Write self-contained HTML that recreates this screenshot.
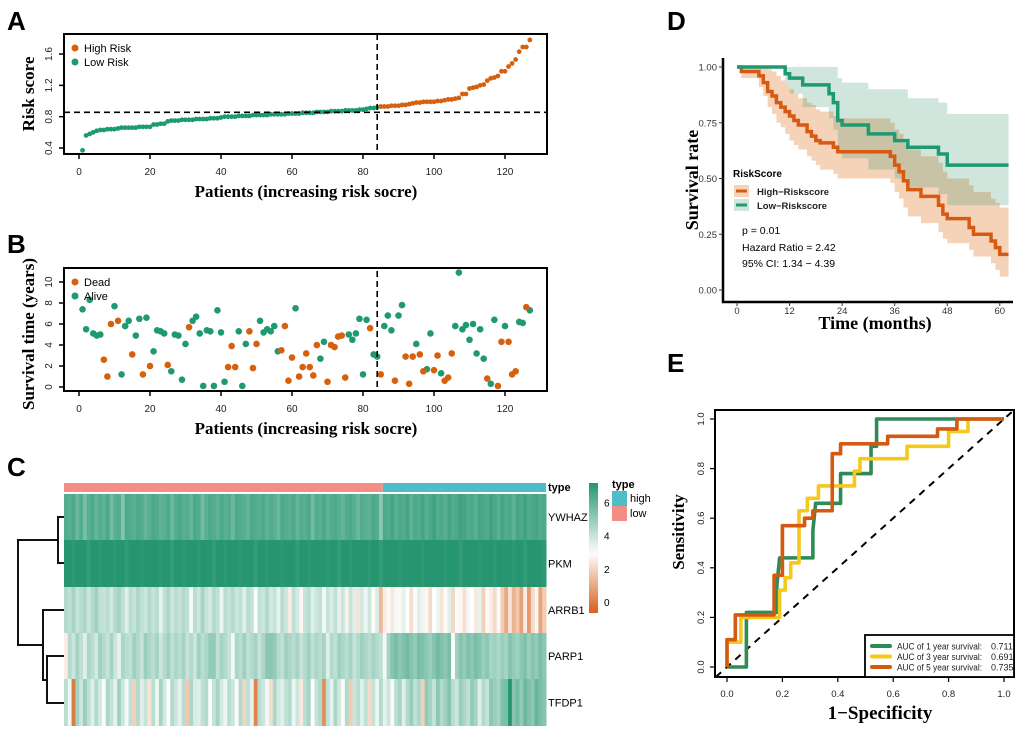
<!DOCTYPE html>
<html><head><meta charset="utf-8"><style>
body{margin:0;background:#fff}
svg text{font-family:"Liberation Sans",sans-serif}
.ser{font-family:"Liberation Serif",serif!important;font-weight:bold}
.pl{font-size:26px;font-weight:bold}
.tk{font-size:10px;fill:#222}
</style></head><body>
<svg id="fig" width="1020" height="730" viewBox="0 0 1020 730" xmlns="http://www.w3.org/2000/svg">
<text class="pl" x="7" y="30">A</text>
<text class="pl" x="7" y="253">B</text>
<text class="pl" x="7" y="476">C</text>
<text class="pl" x="667" y="30">D</text>
<text class="pl" x="667" y="372">E</text>
<g id="gA"></g>
<g id="gB"></g>
<g id="gC"></g>
<g id="gD"></g>
<g id="gE"></g>
</svg>
<script>
// ---- Panel A data ----
const riskScores=[0.37,0.56,0.58,0.60,0.62,0.63,0.63,0.64,0.64,0.64,0.65,0.66,0.66,0.66,0.66,0.66,0.67,0.67,0.67,0.67,0.70,0.70,0.71,0.71,0.74,0.75,0.75,0.75,0.76,0.76,0.76,0.76,0.77,0.77,0.77,0.77,0.78,0.78,0.78,0.79,0.80,0.80,0.80,0.80,0.81,0.81,0.81,0.81,0.82,0.82,0.82,0.82,0.82,0.83,0.83,0.83,0.83,0.83,0.84,0.84,0.84,0.84,0.85,0.85,0.85,0.85,0.86,0.86,0.86,0.86,0.87,0.87,0.87,0.87,0.88,0.88,0.88,0.88,0.89,0.89,0.90,0.91,0.91,0.92,0.93,0.93,0.93,0.94,0.94,0.94,0.95,0.95,0.96,0.97,0.98,0.98,0.99,0.99,0.99,0.99,1.00,1.00,1.01,1.02,1.02,1.03,1.04,1.09,1.09,1.16,1.17,1.18,1.20,1.21,1.26,1.29,1.30,1.32,1.38,1.38,1.44,1.48,1.53,1.63,1.69,1.69,1.78];
const riskCut=84, riskThreshold=0.856;
const riskYTicks=[0.4,0.8,1.2,1.6];
const patientTicks=[0,20,40,60,80,100,120];
// ---- Panel B data ----
const aliveIdx=[1,2,3,4,5,6,10,12,13,14,16,17,19,21,22,23,24,26,27,28,29,30,32,33,34,35,36,37,38,39,40,41,45,46,47,51,52,53,54,55,56,61,68,69,76,77,78,79,80,81,83,84,86,87,88,90,91,95,98,99,102,106,107,108,109,110,111,112,113,114,116,117,120,124,125,127];
const aliveTime=[7.4,5.5,8.3,5.1,4.9,5.0,7.7,1.2,5.8,6.3,4.9,6.5,6.6,3.4,5.4,5.3,5.1,1.5,5.0,4.9,0.7,4.1,6.3,6.7,5.1,0.1,5.4,5.3,0.1,7.3,5.2,0.5,5.3,0.1,4.1,6.3,5.2,5.5,5.3,5.8,3.4,7.5,2.7,4.3,5.0,4.5,5.1,6.5,1.2,6.4,3.1,2.9,5.8,6.8,5.4,6.8,7.8,4.1,1.7,5.1,1.3,5.8,10.9,5.5,5.9,4.5,6.0,3.2,5.5,2.7,0.3,6.4,5.8,6.2,6.1,7.3];
const deadIdx=[7,8,9,11,15,18,20,25,31,42,43,44,48,49,50,57,58,59,60,62,63,64,65,66,67,70,71,72,73,74,75,82,85,89,92,93,94,96,97,100,101,103,104,105,115,118,119,121,122,123,126];
const deadTime=[2.6,1.0,6.0,6.3,3.1,1.2,2.0,2.1,5.7,1.9,3.9,1.9,5.3,1.8,4.1,3.5,5.8,0.6,2.8,1.0,1.9,3.2,1.9,1.1,4.0,0.5,4.0,3.8,4.8,4.9,0.9,5.6,1.2,0.6,2.9,0.3,2.9,3.1,1.5,1.6,3.0,0.6,0.9,3.2,0.8,0.1,4.3,4.3,1.2,1.5,7.6];
const survTicks=[0,2,4,6,8,10];
// ---- Panel C data ----
const genes=["YWHAZ","PKM","ARRB1","PARP1","TFDP1"];
const lowCount=84;
const ywhaz=[6.1,6.0,6.2,5.7,6.1,5.5,6.0,6.2,5.8,6.1,5.9,6.2,5.6,6.0,6.1,5.3,6.2,6.1,6.0,6.2,6.1,5.8,6.0,6.2,6.1,5.9,6.0,6.2,5.7,6.1,6.2,6.0,6.1,5.8,6.2,6.1,5.6,6.0,6.2,6.1,5.9,6.2,6.0,6.1,5.7,6.2,6.1,6.0,5.8,6.2,6.1,6.0,6.2,5.9,6.1,6.0,5.7,6.2,6.1,6.0,6.2,5.8,6.1,6.0,6.2,5.6,6.1,6.0,6.2,5.9,6.1,6.2,6.0,5.8,6.1,6.2,6.0,5.7,6.1,6.0,5.9,6.2,6.1,5.2,6.2,6.1,6.3,6.0,6.2,6.1,6.3,5.9,6.2,6.1,6.3,6.0,6.2,6.4,6.1,6.2,6.0,6.3,6.1,6.2,6.4,6.3,6.1,6.2,6.0,6.3,6.2,6.1,6.4,6.2,6.0,6.3,6.1,6.2,5.9,6.3,6.2,6.4,6.1,6.2,6.3,6.1,6.2];
const pkm=[6.8,6.9,6.7,6.8,7.0,6.8,6.6,6.9,6.8,6.7,6.9,6.8,7.0,6.7,6.8,6.9,6.6,6.8,6.9,6.8,6.7,6.9,6.8,7.0,6.8,6.7,6.9,6.8,6.6,6.9,6.8,6.7,6.9,6.8,7.0,6.7,6.8,6.9,6.8,6.6,6.9,6.8,6.7,7.0,6.8,6.9,6.7,6.8,6.9,6.8,6.6,6.9,6.8,6.7,6.9,7.0,6.8,6.7,6.9,6.8,6.8,6.6,6.9,6.8,6.7,6.9,6.8,7.0,6.8,6.7,6.9,6.8,6.6,6.9,6.8,6.7,6.9,6.8,7.0,6.8,6.7,6.9,6.8,6.6,6.8,6.9,7.0,6.8,6.7,6.9,6.8,7.0,6.9,6.8,6.7,6.9,6.8,7.0,6.8,6.9,6.7,6.8,6.9,6.8,6.6,6.9,6.8,7.0,6.8,6.7,6.9,6.8,6.9,6.7,6.8,6.9,7.0,6.8,6.7,6.9,6.8,6.6,6.9,6.8,6.9,6.8,6.7];
const arrb1=[4.6,4.4,4.8,4.3,4.5,4.7,4.2,4.6,4.9,4.4,4.3,4.5,4.1,4.6,4.8,4.4,3.9,4.5,4.3,4.7,4.4,4.2,4.6,4.3,4.5,3.8,4.4,4.7,4.2,4.5,4.3,4.6,4.4,3.6,4.5,4.2,4.8,4.3,4.1,4.6,4.4,3.7,4.5,4.3,4.6,4.2,4.4,3.9,4.5,4.3,3.5,4.4,4.2,4.6,4.1,4.3,3.8,4.5,4.2,3.0,4.4,4.1,3.2,4.3,4.5,3.9,4.2,4.4,3.6,4.3,4.0,4.4,3.8,4.2,3.1,4.3,3.9,2.8,4.1,3.7,4.2,3.3,4.0,1.9,3.0,3.3,2.9,3.6,3.2,3.8,3.4,2.7,3.5,3.9,3.1,3.6,2.6,3.4,3.7,2.8,3.3,3.9,2.5,3.5,3.2,2.7,3.6,3.4,2.9,3.8,2.4,3.3,3.0,2.6,3.5,2.3,1.6,2.8,1.8,2.2,1.4,3.0,1.2,2.6,3.2,1.5,2.3];
const parp1=[3.0,4.6,4.2,4.8,4.4,3.9,4.7,4.5,4.1,4.9,4.6,4.3,4.8,4.2,3.8,4.7,4.5,4.4,4.9,4.6,4.3,5.0,4.7,4.5,4.8,4.2,4.6,4.9,4.4,4.7,4.5,4.8,4.3,4.6,4.2,4.9,4.5,4.7,5.1,5.1,4.4,4.8,4.6,4.3,3.6,4.7,4.5,4.9,4.4,4.6,4.8,4.3,4.7,5.2,5.2,5.1,4.6,4.4,4.9,4.7,4.5,4.8,4.3,4.6,4.9,4.4,4.7,4.5,4.8,3.9,4.6,4.4,4.9,4.7,4.5,4.8,4.3,4.6,4.9,4.7,4.5,4.8,4.6,4.4,3.6,4.8,5.3,5.5,5.2,5.4,5.6,5.3,5.1,5.5,5.4,5.2,5.0,5.3,5.6,5.4,5.2,5.5,3.4,4.9,5.3,5.1,5.4,5.2,5.5,5.3,5.0,5.2,4.8,4.9,4.7,5.0,4.8,5.3,5.1,4.9,5.2,5.4,5.0,5.3,5.1,5.5,5.2];
const tfdp1=[4.5,3.7,0.6,4.8,4.2,5.0,4.4,3.9,4.6,4.1,3.5,4.7,4.3,3.8,4.9,4.2,3.6,4.4,2.4,4.6,3.9,4.3,2.8,4.5,3.7,4.8,4.1,3.4,4.6,4.2,3.8,4.5,2.2,4.7,4.0,3.9,4.4,4.6,3.5,4.3,4.8,4.1,3.7,4.5,4.2,3.3,4.6,2.5,4.4,3.8,0.8,4.5,4.2,3.6,2.7,4.7,4.1,3.9,4.4,4.6,3.7,4.2,2.9,4.5,4.8,3.4,4.3,4.6,1.0,4.4,3.8,4.7,4.1,3.5,4.6,2.3,4.2,4.5,3.9,4.4,2.6,4.3,3.7,4.6,3.8,4.2,3.5,4.5,4.8,3.9,4.6,5.0,4.4,4.7,2.4,5.1,4.8,4.3,5.2,4.6,4.9,5.3,4.5,4.2,5.0,4.7,4.4,5.1,4.8,3.9,4.6,4.3,5.2,5.0,4.8,5.4,5.5,7.0,5.3,5.6,5.1,5.7,5.4,5.2,5.8,5.5,5.3];
const colorbarTicks=[0,2,4,6];
// ---- Panel D data ----
const hiT=[0,1,5,6,7,8,9,10,11,12,13,14,16,17,18,19,22,23,35,36,37,38,39,42,46,47,48,53,54,58,59,60];
const hiS=[1.0,0.98,0.96,0.93,0.89,0.87,0.84,0.82,0.80,0.78,0.76,0.74,0.71,0.69,0.67,0.66,0.64,0.62,0.60,0.56,0.53,0.49,0.45,0.42,0.38,0.34,0.32,0.28,0.25,0.22,0.19,0.16];
const hiU=[1.0,1.0,1.0,1.0,0.99,0.98,0.96,0.94,0.92,0.90,0.88,0.86,0.84,0.83,0.81,0.80,0.78,0.77,0.75,0.72,0.70,0.66,0.63,0.60,0.57,0.53,0.50,0.47,0.44,0.41,0.39,0.37];
const hiL=[1.0,0.95,0.91,0.87,0.82,0.79,0.75,0.73,0.70,0.67,0.65,0.63,0.60,0.58,0.56,0.54,0.52,0.50,0.48,0.44,0.41,0.37,0.33,0.30,0.26,0.23,0.21,0.18,0.15,0.12,0.09,0.06];
const loT=[0,11,12,15,21,22,23,24,30,36,39,46,48];
const loS=[1.0,0.97,0.95,0.92,0.88,0.84,0.76,0.74,0.70,0.67,0.64,0.61,0.56];
const loU=[1.0,1.0,1.0,1.0,1.0,1.0,0.95,0.93,0.90,0.90,0.86,0.84,0.79];
const loL=[1.0,0.92,0.88,0.82,0.77,0.72,0.62,0.59,0.54,0.50,0.46,0.43,0.38];
const timeTicks=[0,12,24,36,48,60];
const survRateTicks=[0,0.25,0.5,0.75,1.0];
// ---- Panel E data ----
const fpr1=[0,0.07,0.07,0.18,0.18,0.19,0.31,0.31,0.32,0.41,0.41,0.52,0.52,0.54,0.54,1];
const tpr1=[0,0,0.22,0.22,0.33,0.44,0.44,0.55,0.66,0.66,0.78,0.78,0.89,0.89,1,1];
const fpr3=[0,0,0.05,0.05,0.19,0.19,0.21,0.21,0.23,0.23,0.26,0.26,0.29,0.29,0.33,0.33,0.46,0.46,0.48,0.48,0.65,0.65,0.8,0.8,0.87,0.87,1];
const tpr3=[0,0.1,0.1,0.2,0.2,0.31,0.31,0.36,0.36,0.42,0.42,0.63,0.63,0.68,0.68,0.73,0.73,0.79,0.79,0.84,0.84,0.89,0.89,0.95,0.95,1,1];
const fpr5=[0,0,0.03,0.03,0.17,0.17,0.2,0.2,0.28,0.28,0.31,0.31,0.38,0.38,0.41,0.41,0.58,0.58,0.76,0.76,0.83,0.83,1];
const tpr5=[0,0.11,0.11,0.21,0.21,0.37,0.37,0.57,0.57,0.6,0.6,0.63,0.63,0.86,0.86,0.9,0.9,0.93,0.93,0.96,0.96,1,1];
const aucLabels=["AUC of 1 year survival:","AUC of 3 year survival:","AUC of 5 year survival:"];
const aucValues=["0.711","0.691","0.735"];
const rocTicks=[0,0.2,0.4,0.6,0.8,1.0];

const NS="http://www.w3.org/2000/svg";
function mk(p,tag,a,txt){const e=document.createElementNS(NS,tag);for(const k in a)e.setAttribute(k,a[k]);if(txt!==undefined)e.textContent=txt;p.appendChild(e);return e;}
const GRN="#1f9a70",ORG="#d7600f";

// ===== A =====
const gA=document.getElementById('gA');
const xP=i=>79+3.55*i;
const yA=v=>148-(v-0.4)*78.3;
mk(gA,'rect',{x:64,y:34,width:483,height:120,fill:'none',stroke:'#000','stroke-width':2});
riskScores.forEach((v,k)=>{const c=mk(gA,'circle',{cx:xP(k+1),cy:yA(v),r:2.4,fill:(k+1)<=riskCut?GRN:ORG});

});
mk(gA,'line',{x1:64,x2:547,y1:yA(riskThreshold),y2:yA(riskThreshold),stroke:'#000','stroke-width':1.6,'stroke-dasharray':'6,4'});
mk(gA,'line',{x1:xP(riskCut),x2:xP(riskCut),y1:34,y2:154,stroke:'#000','stroke-width':1.6,'stroke-dasharray':'6,4'});
patientTicks.forEach(t=>{mk(gA,'line',{x1:xP(t),x2:xP(t),y1:154,y2:159,stroke:'#000','stroke-width':1.5});mk(gA,'text',{x:xP(t),y:175,'text-anchor':'middle',class:'tk'},t);});
riskYTicks.forEach(t=>{mk(gA,'line',{x1:59,x2:64,y1:yA(t),y2:yA(t),stroke:'#000','stroke-width':1.5});mk(gA,'text',{x:52,y:yA(t),'text-anchor':'middle',class:'tk',transform:`rotate(-90 52 ${yA(t)})`},t.toFixed(1));});
mk(gA,'circle',{cx:75,cy:48,r:3.5,fill:ORG});mk(gA,'text',{x:84,y:52,'font-size':11},'High Risk');
mk(gA,'circle',{cx:75,cy:62,r:3.5,fill:GRN});mk(gA,'text',{x:84,y:66,'font-size':11},'Low Risk');
mk(gA,'text',{x:306,y:197,'text-anchor':'middle',class:'ser','font-size':17},'Patients (increasing risk socre)');
mk(gA,'text',{x:34,y:94,'text-anchor':'middle',class:'ser','font-size':17,transform:'rotate(-90 34 94)'},'Risk score');

// ===== B =====
const gB=document.getElementById('gB');
const yB=v=>387-v*10.5;
mk(gB,'rect',{x:64,y:268,width:483,height:123,fill:'none',stroke:'#000','stroke-width':2});
aliveIdx.forEach((i,k)=>{const c=mk(gB,'circle',{cx:xP(i),cy:yB(aliveTime[k]),r:3.3,fill:GRN});

});
deadIdx.forEach((i,k)=>{const c=mk(gB,'circle',{cx:xP(i),cy:yB(deadTime[k]),r:3.3,fill:ORG});

});
mk(gB,'line',{x1:xP(riskCut),x2:xP(riskCut),y1:271,y2:391,stroke:'#000','stroke-width':1.6,'stroke-dasharray':'6,4'});
patientTicks.forEach(t=>{mk(gB,'line',{x1:xP(t),x2:xP(t),y1:391,y2:396,stroke:'#000','stroke-width':1.5});mk(gB,'text',{x:xP(t),y:412,'text-anchor':'middle',class:'tk'},t);});
survTicks.forEach(t=>{mk(gB,'line',{x1:59,x2:64,y1:yB(t),y2:yB(t),stroke:'#000','stroke-width':1.5});mk(gB,'text',{x:52,y:yB(t),'text-anchor':'middle',class:'tk',transform:`rotate(-90 52 ${yB(t)})`},t);});
mk(gB,'circle',{cx:75,cy:282,r:3.5,fill:ORG});mk(gB,'text',{x:84,y:286,'font-size':11},'Dead');
mk(gB,'circle',{cx:75,cy:296,r:3.5,fill:GRN});mk(gB,'text',{x:84,y:300,'font-size':11},'Alive');
mk(gB,'text',{x:306,y:434,'text-anchor':'middle',class:'ser','font-size':17},'Patients (increasing risk socre)');
mk(gB,'text',{x:34,y:334,'text-anchor':'middle',class:'ser','font-size':17,transform:'rotate(-90 34 334)'},'Survival time (years)');

// ===== C =====
const gC=document.getElementById('gC');
function hcol(v){const w=[255,255,255],g=[38,150,112],o=[214,96,26];let t,c;if(v>=3.4){t=Math.min(1,(v-3.4)/3.4);c=g;}else{t=Math.min(1,(3.4-v)/3.4);c=o;}return `rgb(${w.map((x,i)=>Math.round(x+(c[i]-x)*t)).join(',')})`;}
const rows=[ywhaz,pkm,arrb1,parp1,tfdp1];
const hx0=64,hx1=546,cw=(hx1-hx0)/127,ry=[494,540,587,633,679,726];
const splitX=hx0+lowCount*cw;
mk(gC,'rect',{x:hx0,y:483,width:splitX-hx0,height:9,fill:'#f28e86'});
mk(gC,'rect',{x:splitX,y:483,width:hx1-splitX,height:9,fill:'#4fbdc9'});
rows.forEach((r,ri)=>{r.forEach((v,ci)=>{const c=mk(gC,'rect',{x:hx0+ci*cw,y:ry[ri],width:cw+0.5,height:ry[ri+1]-ry[ri],fill:hcol(v)});

});
mk(gC,'text',{x:548,y:(ry[ri]+ry[ri+1])/2+4,'font-size':11},genes[ri]);});
mk(gC,'text',{x:548,y:491,'font-size':11,'font-weight':'bold'},'type');
// dendrogram
const dp='M64 517H58V563H64M58 540H18V645H43M64 610H43V680H47M64 656H47V703H64';
mk(gC,'path',{d:dp,fill:'none',stroke:'#111','stroke-width':2});
// color bar
const cb=mk(gC,'defs',{});const lg=mk(cb,'linearGradient',{id:'cbg',x1:0,y1:0,x2:0,y2:1});
[[0,hcol(7)],[0.5,hcol(3.7)],[0.55,hcol(3.3)],[1,hcol(-0.3)]].forEach(s=>mk(lg,'stop',{offset:s[0],'stop-color':s[1]}));
mk(gC,'rect',{x:589,y:483,width:9,height:130,fill:'url(#cbg)'});
const cbY=v=>602-v*16.6;
colorbarTicks.forEach(t=>mk(gC,'text',{x:604,y:cbY(t)+4,'font-size':10},t));
mk(gC,'text',{x:612,y:488,'font-size':11,'font-weight':'bold'},'type');
mk(gC,'rect',{x:612,y:491,width:15,height:15,fill:'#4fbdc9'});mk(gC,'text',{x:630,y:502,'font-size':11},'high');
mk(gC,'rect',{x:612,y:506,width:15,height:15,fill:'#f28e86'});mk(gC,'text',{x:630,y:517,'font-size':11},'low');

// ===== D =====
const gD=document.getElementById('gD');
const xD=t=>737+t*4.38, yD=s=>290-s*223, tEnd=62;
function stepPath(T,S){let d=`M${xD(T[0])} ${yD(S[0])}`;for(let i=1;i<T.length;i++){d+=`H${xD(T[i])}V${yD(S[i])}`;}d+=`H${xD(tEnd)}`;return d;}
function band(T,U,L){let up=stepPath(T,U);
let d=up+`V${yD(L[L.length-1])}`;for(let i=T.length-1;i>=0;i--){d+=`H${xD(T[i])}`;if(i>0)d+=`V${yD(L[i-1])}`;}return d+'Z';}
mk(gD,'path',{d:band(hiT,hiU,hiL),fill:'rgba(226,120,40,0.33)'});
mk(gD,'path',{d:band(loT,loU,loL),fill:'rgba(40,140,100,0.22)'});
const kh=mk(gD,'path',{d:stepPath(hiT,hiS),fill:'none',stroke:'#d85a12','stroke-width':3.5});


const kl=mk(gD,'path',{d:stepPath(loT,loS),fill:'none',stroke:'#1f9a70','stroke-width':3.5});


mk(gD,'path',{d:'M723 58V302H1013',fill:'none',stroke:'#000','stroke-width':2.5});
timeTicks.forEach(t=>{mk(gD,'line',{x1:xD(t),x2:xD(t),y1:302,y2:306,stroke:'#333'});mk(gD,'text',{x:xD(t),y:314,'text-anchor':'middle','font-size':9.5,fill:'#333'},t);});
survRateTicks.forEach(t=>{mk(gD,'line',{x1:719,x2:723,y1:yD(t),y2:yD(t),stroke:'#333'});mk(gD,'text',{x:717,y:yD(t)+3.5,'text-anchor':'end','font-size':9.5,fill:'#333'},t.toFixed(2));});
mk(gD,'text',{x:875,y:329,'text-anchor':'middle',class:'ser','font-size':18},'Time (months)');
mk(gD,'text',{x:698,y:180,'text-anchor':'middle',class:'ser','font-size':18,transform:'rotate(-90 698 180)'},'Survival rate');
mk(gD,'text',{x:733,y:177,'font-size':10,'font-weight':'bold'},'RiskScore');
mk(gD,'rect',{x:734,y:185,width:15,height:12,fill:'rgba(226,120,40,0.33)'});mk(gD,'line',{x1:736,x2:747,y1:191,y2:191,stroke:'#d85a12','stroke-width':3});
mk(gD,'rect',{x:734,y:199,width:15,height:12,fill:'rgba(40,140,100,0.22)'});mk(gD,'line',{x1:736,x2:747,y1:205,y2:205,stroke:'#1f9a70','stroke-width':3});
mk(gD,'text',{x:757,y:195,'font-size':9.5,'font-weight':'bold',fill:'#222'},'High−Riskscore');
mk(gD,'text',{x:757,y:209,'font-size':9.5,'font-weight':'bold',fill:'#222'},'Low−Riskscore');
mk(gD,'text',{x:742,y:234,'font-size':10.5},'p = 0.01');
mk(gD,'text',{x:742,y:251,'font-size':10.5},'Hazard Ratio = 2.42');
mk(gD,'text',{x:742,y:267,'font-size':10.5},'95% CI: 1.34 − 4.39');

// ===== E =====
const gE=document.getElementById('gE');
const xE=v=>727+v*277, yE=v=>667-v*248;
mk(gE,'line',{x1:xE(-0.04),y1:yE(-0.04),x2:xE(1.03),y2:yE(1.03),stroke:'#000','stroke-width':2,'stroke-dasharray':'7,6'});
[[fpr1,tpr1,'#2e8b57','roc-1-year'],[fpr3,tpr3,'#f5c81c','roc-3-year'],[fpr5,tpr5,'#d35a10','roc-5-year']].forEach(s=>{
const d=s[0].map((f,i)=>(i?'L':'M')+xE(f)+' '+yE(s[1][i])).join('');
const p=mk(gE,'path',{d:d,fill:'none',stroke:s[2],'stroke-width':3.6,'stroke-linejoin':'round'});

});
mk(gE,'rect',{x:715,y:410,width:299,height:267,fill:'none',stroke:'#000','stroke-width':2});
rocTicks.forEach(t=>{mk(gE,'line',{x1:xE(t),x2:xE(t),y1:677,y2:682,stroke:'#000','stroke-width':1.2});mk(gE,'text',{x:xE(t),y:697,'text-anchor':'middle','font-size':9.5,fill:'#222'},t.toFixed(1));
mk(gE,'line',{x1:710,x2:715,y1:yE(t),y2:yE(t),stroke:'#000','stroke-width':1.2});mk(gE,'text',{x:704,y:yE(t),'text-anchor':'middle','font-size':9.5,fill:'#222',transform:`rotate(-90 704 ${yE(t)})`},t.toFixed(1));});
mk(gE,'rect',{x:865,y:635,width:149,height:42,fill:'#fff',stroke:'#000','stroke-width':1.8});
['#2e8b57','#f5c81c','#d35a10'].forEach((c,i)=>{const y=646+i*10.5;mk(gE,'line',{x1:872,x2:890,y1:y,y2:y,stroke:c,'stroke-width':4,'stroke-linecap':'round'});
mk(gE,'text',{x:897,y:y+3.5,'font-size':9,fill:'#222',textLength:85,lengthAdjust:'spacingAndGlyphs'},aucLabels[i]);mk(gE,'text',{x:991,y:y+3.5,'font-size':9,fill:'#222'},aucValues[i]);});
mk(gE,'text',{x:880,y:719,'text-anchor':'middle',class:'ser','font-size':19},'1−Specificity');
mk(gE,'text',{x:684,y:532,'text-anchor':'middle',class:'ser','font-size':17,transform:'rotate(-90 684 532)'},'Sensitivity');
</script>
</body></html>
